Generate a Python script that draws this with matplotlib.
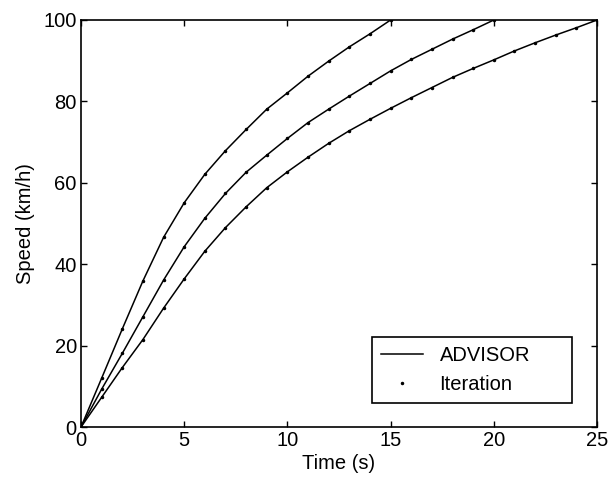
import numpy as np
import matplotlib
matplotlib.use("Agg")
import matplotlib.pyplot as plt

# speed traces (km/h) sampled once per second
t_fast = np.arange(0, 16)
v_fast = [0, 12.0, 24.1, 35.9, 46.6, 55.1, 62.1, 67.9, 73.1, 78.1, 82.1,
          86.2, 89.9, 93.4, 96.6, 100.0]

t_mid = np.arange(0, 21)
v_mid = [0, 9.3, 18.1, 27.1, 36.1, 44.3, 51.3, 57.4, 62.6, 66.8, 70.9,
         74.8, 78.1, 81.3, 84.4, 87.5, 90.3, 92.8, 95.3, 97.6, 100.0]

t_slow = np.arange(0, 26)
v_slow = [0, 7.3, 14.6, 21.5, 29.2, 36.4, 43.2, 49.0, 54.1, 58.8, 62.7,
          66.3, 69.7, 72.8, 75.6, 78.3, 80.9, 83.4, 85.9, 88.1, 90.2,
          92.4, 94.4, 96.3, 98.1, 100.0]

plt.rcParams['font.family'] = ['Liberation Sans', 'DejaVu Sans']
plt.rcParams['font.size'] = 14.5

fig = plt.figure(figsize=(6.11, 4.83), dpi=100)
ax = fig.add_axes([0.1326, 0.1159, 0.8445, 0.8427])

traces = [(t_fast, v_fast), (t_mid, v_mid), (t_slow, v_slow)]
for i, (t, v) in enumerate(traces):
    ax.plot(t, v, '-', color='black', lw=1.1,
            label='ADVISOR' if i == 0 else None)
for i, (t, v) in enumerate(traces):
    ax.plot(t, v, '.', color='black', ms=3,
            label='Iteration' if i == 0 else None)

ax.set_xlim(0, 25)
ax.set_ylim(0, 100)
ax.set_xticks([0, 5, 10, 15, 20, 25])
ax.set_yticks([0, 20, 40, 60, 80, 100])
ax.set_xlabel('Time (s)', labelpad=3)
ax.set_ylabel('Speed (km/h)', labelpad=6)
ax.tick_params(direction='in', length=4, width=1, top=True, right=True,
               pad=3)
for s in ax.spines.values():
    s.set_linewidth(1.2)

leg = ax.legend(loc='lower left', bbox_to_anchor=(0.564, 0.059, 0.388, 0.15),
                mode='expand', borderaxespad=0,
                frameon=True, fancybox=False, edgecolor='black',
                framealpha=1, handlelength=2.1, borderpad=0.45,
                labelspacing=0.5, handletextpad=0.8)
leg.get_frame().set_linewidth(1.2)

fig.savefig('out.png', dpi=100)
